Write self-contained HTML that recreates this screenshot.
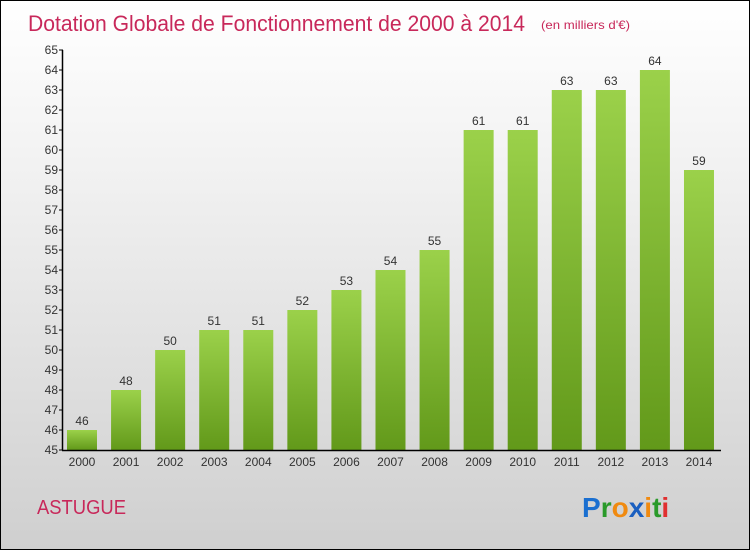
<!DOCTYPE html>
<html><head><meta charset="utf-8"><style>
body{margin:0}
#wrap{position:relative;width:748px;height:548px;border:1px solid #000;background:linear-gradient(#fff 0%,#f2f2f2 30%,#cfcfcf 100%);font-family:"Liberation Sans",sans-serif;overflow:hidden}
</style></head><body>
<div id="wrap">
<svg id="chart" width="748" height="548">
<defs><linearGradient id="bg" x1="0" y1="0" x2="0" y2="1"><stop offset="0" stop-color="#9bd14a"/><stop offset="1" stop-color="#62991a"/></linearGradient></defs>
<text x="27" y="30" font-size="22" fill="#c8285a" textLength="497" lengthAdjust="spacingAndGlyphs">Dotation Globale de Fonctionnement de 2000 à 2014</text>
<text x="540" y="28" font-size="12" fill="#c8285a" textLength="89" lengthAdjust="spacingAndGlyphs">(en milliers d'€)</text>
<text x="36" y="513" font-size="20" fill="#c8285a" textLength="89" lengthAdjust="spacingAndGlyphs">ASTUGUE</text>
<text x="581" y="516" font-size="28" font-weight="bold"><tspan fill="#1a6fd0">P</tspan><tspan fill="#2a9a2a">r</tspan><tspan fill="#f08a10">o</tspan><tspan fill="#1a5fc0">x</tspan><tspan fill="#f08a10">i</tspan><tspan fill="#2a9a2a">t</tspan><tspan fill="#e03030">i</tspan></text>
<g id="plot"></g>
</svg>
</div>
<script>
const years=["2000","2001","2002","2003","2004","2005","2006","2007","2008","2009","2010","2011","2012","2013","2014"];
const values=[46,48,50,51,51,52,53,54,55,61,61,63,63,64,59];
const yTicks=[45,46,47,48,49,50,51,52,53,54,55,56,57,58,59,60,61,62,63,64,65];
const NS="http://www.w3.org/2000/svg";
const g=document.getElementById('plot');
const y=v=>449-(v-45)*20;
const x=i=>66+i*44.07;
function el(t,a){const e=document.createElementNS(NS,t);for(const k in a)e.setAttribute(k,a[k]);g.appendChild(e);return e;}
years.forEach((yr,i)=>{
 const b=el('rect',{x:x(i),y:y(values[i]),width:30,height:y(45)-y(values[i]),fill:'url(#bg)'});
 
 
 const t=el('text',{x:x(i)+15,y:y(values[i])-5,'font-size':12,fill:'#333','text-anchor':'middle'});t.textContent=values[i];
 
 
 const l=el('text',{x:x(i)+15,y:465,'font-size':12,fill:'#333','text-anchor':'middle'});l.textContent=yr;
 
 
});
yTicks.forEach(v=>{
 el('line',{x1:58,x2:62,y1:y(v),y2:y(v),stroke:'#000'});
 const t=el('text',{x:57,y:y(v)+4,'font-size':12,fill:'#333','text-anchor':'end'});t.textContent=v;
 
 
});
const ya=el('line',{x1:61.5,x2:61.5,y1:y(65),y2:y(45),stroke:'#000','stroke-width':1.5});


const xa=el('line',{x1:61,x2:720,y1:y(45)+0.5,y2:y(45)+0.5,stroke:'#000','stroke-width':1.5});


</script>
</body></html>
